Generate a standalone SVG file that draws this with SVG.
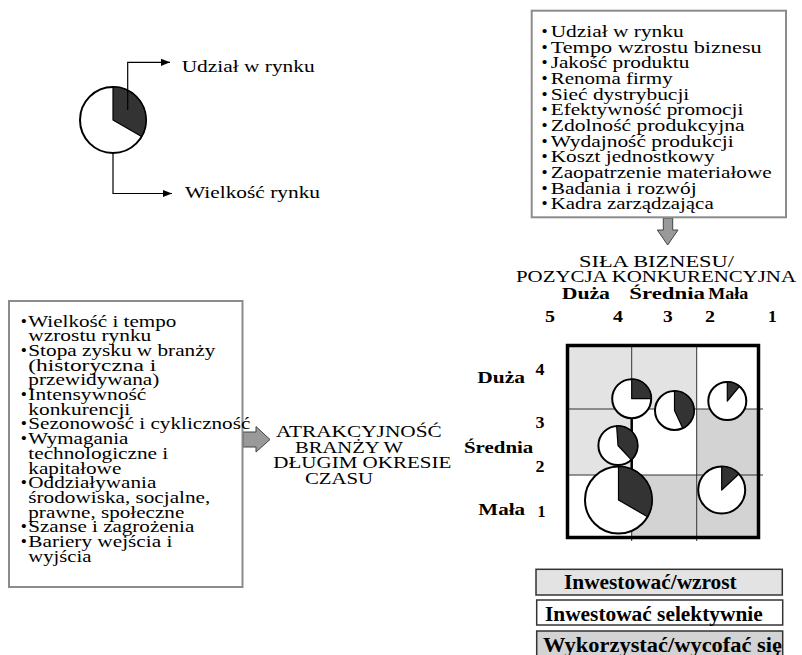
<svg xmlns="http://www.w3.org/2000/svg" width="802" height="655" viewBox="0 0 802 655">
  <defs>
    <marker id="ah" viewBox="0 0 10 10" refX="10" refY="5" markerWidth="9" markerHeight="9" markerUnits="userSpaceOnUse" orient="auto">
      <path d="M0,1 L10,5 L0,9 Z" fill="#000"/>
    </marker>
    <style>
      .t { font-family: "Liberation Serif", "Times New Roman", serif; font-size: 17.5px; fill: #000; }
      .b { font-family: "Liberation Serif", "Times New Roman", serif; font-size: 17px; font-weight: bold; fill: #000; }
      .lg { font-family: "Liberation Serif", "Times New Roman", serif; font-size: 20px; font-weight: bold; fill: #000; }
      .box { fill: #fff; stroke: #8c8c8c; stroke-width: 2; }
      .pie { fill: #fff; stroke: #000; stroke-width: 2; }
      .slice { fill: #333; stroke: #000; stroke-width: 1.2; stroke-linejoin: round; }
      .garrow { fill: #999; stroke: #444; stroke-width: 1; }
      .grid { stroke: #333; stroke-width: 1; fill: none; }
      .conn { fill: none; stroke: #000; stroke-width: 1.2; }
    </style>
  </defs>
  <rect width="802" height="655" fill="#fff"/>

  <!-- legend pie: market size / market share -->
  <g id="legend-pie">
    <circle class="pie" cx="113" cy="120" r="33"/>
    <path class="slice" d="M113,120 L113,87 A33,33 0 0 1 141.58,136.5 Z"/>
    <text class="t" x="181.7" y="71.7" textLength="133" lengthAdjust="spacingAndGlyphs">Udział w rynku</text>
    <text class="t" x="185" y="198.3" textLength="135" lengthAdjust="spacingAndGlyphs">Wielkość rynku</text>
  </g>

  <!-- connectors -->
  <g id="connectors">
    <path class="conn" d="M127.7,110 V62.3 H170" marker-end="url(#ah)"/>
    <path class="conn" d="M113,153 V193.5 H172" marker-end="url(#ah)"/>
    <polygon id="arrow-down" class="garrow" points="663.3,218 672.7,218 672.7,230 678,230 667.7,245 657.3,230 663.3,230"/>
    <polygon id="arrow-right" class="garrow" points="243,432 256,432 256,426.5 270,439.5 256,452 256,447 243,447"/>
  </g>

  <!-- business strength factors -->
  <g id="business-factors">
    <rect class="box" x="531.7" y="10.7" width="254.3" height="206.6"/>
    <g class="t">
      <text x="541.5" y="37">•</text>
      <text x="550.7" y="37" textLength="133" lengthAdjust="spacingAndGlyphs">Udział w rynku</text>
      <text x="541.5" y="52.65">•</text>
      <text x="550.7" y="52.65" textLength="211" lengthAdjust="spacingAndGlyphs">Tempo wzrostu biznesu</text>
      <text x="541.5" y="68.3">•</text>
      <text x="550.7" y="68.3" textLength="138.6" lengthAdjust="spacingAndGlyphs">Jakość produktu</text>
      <text x="541.5" y="83.95">•</text>
      <text x="550.7" y="83.95" textLength="122" lengthAdjust="spacingAndGlyphs">Renoma firmy</text>
      <text x="541.5" y="99.6">•</text>
      <text x="550.7" y="99.6" textLength="138.6" lengthAdjust="spacingAndGlyphs">Sieć dystrybucji</text>
      <text x="541.5" y="115.25">•</text>
      <text x="550.7" y="115.25" textLength="192.6" lengthAdjust="spacingAndGlyphs">Efektywność promocji</text>
      <text x="541.5" y="130.9">•</text>
      <text x="550.7" y="130.9" textLength="194" lengthAdjust="spacingAndGlyphs">Zdolność produkcyjna</text>
      <text x="541.5" y="146.55">•</text>
      <text x="550.7" y="146.55" textLength="183" lengthAdjust="spacingAndGlyphs">Wydajność produkcji</text>
      <text x="541.5" y="162.2">•</text>
      <text x="550.7" y="162.2" textLength="164" lengthAdjust="spacingAndGlyphs">Koszt jednostkowy</text>
      <text x="541.5" y="177.85">•</text>
      <text x="550.7" y="177.85" textLength="221" lengthAdjust="spacingAndGlyphs">Zaopatrzenie materiałowe</text>
      <text x="541.5" y="193.5">•</text>
      <text x="550.7" y="193.5" textLength="146" lengthAdjust="spacingAndGlyphs">Badania i rozwój</text>
      <text x="541.5" y="209.15">•</text>
      <text x="550.7" y="209.15" textLength="163" lengthAdjust="spacingAndGlyphs">Kadra zarządzająca</text>
    </g>
  </g>

  <!-- industry attractiveness factors -->
  <g id="industry-factors">
    <rect class="box" x="9" y="301" width="233.5" height="286"/>
    <g class="t">
      <text x="20.7" y="326.5">•</text>
      <text x="28.3" y="326.5" textLength="148" lengthAdjust="spacingAndGlyphs">Wielkość i tempo</text>
      <text x="28.3" y="341.2" textLength="123" lengthAdjust="spacingAndGlyphs">wzrostu rynku</text>
      <text x="20.7" y="355.9">•</text>
      <text x="28.3" y="355.9" textLength="187" lengthAdjust="spacingAndGlyphs">Stopa zysku w branży</text>
      <text x="28.3" y="370.6" textLength="128" lengthAdjust="spacingAndGlyphs">(historyczna i</text>
      <text x="28.3" y="385.3" textLength="131" lengthAdjust="spacingAndGlyphs">przewidywana)</text>
      <text x="20.7" y="400">•</text>
      <text x="28.3" y="400" textLength="118" lengthAdjust="spacingAndGlyphs">Intensywność</text>
      <text x="28.3" y="414.7" textLength="102" lengthAdjust="spacingAndGlyphs">konkurencji</text>
      <text x="20.7" y="429.4">•</text>
      <text x="28.3" y="429.4" textLength="222" lengthAdjust="spacingAndGlyphs">Sezonowość i cykliczność</text>
      <text x="20.7" y="444.1">•</text>
      <text x="28.3" y="444.1" textLength="100" lengthAdjust="spacingAndGlyphs">Wymagania</text>
      <text x="28.3" y="458.8" textLength="140" lengthAdjust="spacingAndGlyphs">technologiczne i</text>
      <text x="28.3" y="473.5" textLength="93" lengthAdjust="spacingAndGlyphs">kapitałowe</text>
      <text x="20.7" y="488.2">•</text>
      <text x="28.3" y="488.2" textLength="128" lengthAdjust="spacingAndGlyphs">Oddziaływania</text>
      <text x="28.3" y="502.9" textLength="182" lengthAdjust="spacingAndGlyphs">środowiska, socjalne,</text>
      <text x="28.3" y="517.6" textLength="156" lengthAdjust="spacingAndGlyphs">prawne, społeczne</text>
      <text x="20.7" y="532.3">•</text>
      <text x="28.3" y="532.3" textLength="166" lengthAdjust="spacingAndGlyphs">Szanse i zagrożenia</text>
      <text x="20.7" y="547">•</text>
      <text x="28.3" y="547" textLength="144" lengthAdjust="spacingAndGlyphs">Bariery wejścia i</text>
      <text x="28.3" y="561.7" textLength="63" lengthAdjust="spacingAndGlyphs">wyjścia</text>
    </g>
  </g>

  <!-- vertical axis title -->
  <g id="attractiveness-label" class="t">
    <text x="276" y="437" textLength="165.7" lengthAdjust="spacingAndGlyphs">ATRAKCYJNOŚĆ</text>
    <text x="295" y="452.5" textLength="108" lengthAdjust="spacingAndGlyphs">BRANŻY W</text>
    <text x="273.3" y="468" textLength="178" lengthAdjust="spacingAndGlyphs">DŁUGIM OKRESIE</text>
    <text x="305" y="483.5" textLength="68" lengthAdjust="spacingAndGlyphs">CZASU</text>
  </g>

  <!-- horizontal axis title -->
  <g id="strength-label" class="t">
    <text x="579" y="266.7" textLength="155" lengthAdjust="spacingAndGlyphs">SIŁA BIZNESU/</text>
    <text x="516" y="281.5" textLength="280" lengthAdjust="spacingAndGlyphs">POZYCJA KONKURENCYJNA</text>
  </g>

  <!-- axis scales -->
  <g id="axis-scales" class="b">
    <text x="561.7" y="299" textLength="48.3" lengthAdjust="spacingAndGlyphs">Duża</text>
    <text x="629.3" y="299" textLength="75.7" lengthAdjust="spacingAndGlyphs">Średnia</text>
    <text x="708.3" y="299" textLength="40" lengthAdjust="spacingAndGlyphs">Mała</text>
    <text x="545" y="322.3" textLength="10" lengthAdjust="spacingAndGlyphs">5</text>
    <text x="613" y="322.3" textLength="10" lengthAdjust="spacingAndGlyphs">4</text>
    <text x="663" y="322.3" textLength="9.7" lengthAdjust="spacingAndGlyphs">3</text>
    <text x="705" y="322.3" textLength="10" lengthAdjust="spacingAndGlyphs">2</text>
    <text x="768" y="322.3" textLength="8.7" lengthAdjust="spacingAndGlyphs">1</text>
    <text x="477.3" y="383.3" textLength="47.7" lengthAdjust="spacingAndGlyphs">Duża</text>
    <text x="464" y="453.3" textLength="69.3" lengthAdjust="spacingAndGlyphs">Średnia</text>
    <text x="478.3" y="515" textLength="46.7" lengthAdjust="spacingAndGlyphs">Mała</text>
    <text x="535.5" y="375" textLength="9" lengthAdjust="spacingAndGlyphs">4</text>
    <text x="535.5" y="428.3" textLength="9" lengthAdjust="spacingAndGlyphs">3</text>
    <text x="535.5" y="471.7" textLength="9" lengthAdjust="spacingAndGlyphs">2</text>
    <text x="537.5" y="516.7" textLength="8" lengthAdjust="spacingAndGlyphs">1</text>
  </g>

  <!-- portfolio matrix -->
  <g id="matrix">
    <rect x="566" y="344" width="65.7" height="65" fill="#e3e3e3"/>
    <rect x="631.7" y="344" width="65" height="65" fill="#e3e3e3"/>
    <rect x="696.7" y="344" width="63.3" height="65" fill="#fff"/>
    <rect x="566" y="409" width="65.7" height="66" fill="#e3e3e3"/>
    <rect x="631.7" y="409" width="65" height="66" fill="#fff"/>
    <rect x="696.7" y="409" width="63.3" height="66" fill="#d3d3d3"/>
    <rect x="566" y="475" width="65.7" height="64" fill="#fff"/>
    <rect x="631.7" y="475" width="65" height="64" fill="#d3d3d3"/>
    <rect x="696.7" y="475" width="63.3" height="64" fill="#d3d3d3"/>
    <path class="grid" d="M631.7,344 V541 M696.7,344 V541 M566,409 H763 M566,475 H763"/>
    <path d="M631.7,409 V475" stroke="#000" stroke-width="2.5"/>
    <rect x="567.5" y="345.5" width="191" height="192" fill="none" stroke="#000" stroke-width="3.5"/>
  </g>

  <!-- business units -->
  <g id="unit-1">
    <circle class="pie" cx="631.7" cy="398.7" r="19.5"/>
    <path class="slice" d="M631.7,398.7 L631.7,379.2 A19.5,19.5 0 0 1 651.2,398.7 Z"/>
  </g>
  <g id="unit-2">
    <circle class="pie" cx="674.5" cy="410.5" r="19.5"/>
    <path class="slice" d="M674.5,410.5 L674.5,391 A19.5,19.5 0 0 1 682.74,428.17 Z"/>
  </g>
  <g id="unit-3">
    <circle class="pie" cx="727.3" cy="401" r="19"/>
    <path class="slice" d="M727.3,401 L727.3,382 A19,19 0 0 1 739.51,386.45 Z"/>
  </g>
  <g id="unit-4">
    <circle class="pie" cx="618" cy="445.5" r="19.6"/>
    <path class="slice" d="M618,445.5 L616.63,425.95 A19.6,19.6 0 0 1 631.37,459.83 Z"/>
  </g>
  <g id="unit-5">
    <circle class="pie" cx="618.5" cy="500" r="33.5"/>
    <path class="slice" d="M618.5,500 L618.5,466.5 A33.5,33.5 0 0 1 647.51,516.75 Z"/>
  </g>
  <g id="unit-6">
    <circle class="pie" cx="721.7" cy="490" r="23.5"/>
    <path class="slice" d="M721.7,490 L721.7,466.5 A23.5,23.5 0 0 1 738.89,473.97 Z"/>
  </g>

  <!-- strategy legend -->
  <g id="legend-invest">
    <rect x="536" y="569.3" width="246.3" height="25.7" fill="#e3e3e3" stroke="#333" stroke-width="1.5"/>
    <text class="lg" x="564" y="589.3" textLength="172.7" lengthAdjust="spacingAndGlyphs">Inwestować/wzrost</text>
  </g>
  <g id="legend-selective">
    <rect x="536.7" y="600" width="246" height="25" fill="#fff" stroke="#333" stroke-width="1.5"/>
    <text class="lg" x="545" y="620.7" textLength="217.7" lengthAdjust="spacingAndGlyphs">Inwestować selektywnie</text>
  </g>
  <g id="legend-harvest">
    <rect x="536.7" y="631" width="246" height="30" fill="#d3d3d3" stroke="#333" stroke-width="1.5"/>
    <text class="lg" x="543" y="651.8" textLength="239" lengthAdjust="spacingAndGlyphs">Wykorzystać/wycofać się</text>
  </g>
</svg>
